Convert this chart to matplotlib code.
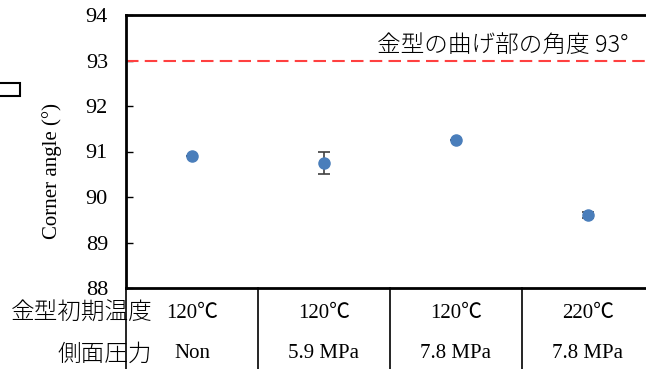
import matplotlib
matplotlib.use("Agg")
import matplotlib.pyplot as plt
from matplotlib.patches import Rectangle
import matplotlib.transforms as mtransforms

# data
conditions = [1, 2, 3, 4]
angles = [90.9, 90.75, 91.25, 89.6]
errors = [0.0, 0.25, 0.0, 0.06]
temps = ["120℃", "120℃", "120℃", "220℃"]
pressures = ["Non", "5.9 MPa", "7.8 MPa", "7.8 MPa"]
die_angle = 93
yticks = [88, 89, 90, 91, 92, 93, 94]

serif = ["Liberation Serif", "Noto Sans CJK JP"]
jp = ["Noto Sans CJK JP", "DejaVu Sans"]

fig = plt.figure(figsize=(6.46, 3.69), dpi=100)
W, H = 646, 369
ax = fig.add_axes([126 / W, (H - 288) / H, (654 - 126) / W, 273 / H])

ax.errorbar(conditions, angles, yerr=errors, fmt="o", color="#4a7ebb",
            markersize=8, ecolor="#404040", elinewidth=1.2, capsize=4.5,
            capthick=1.2, zorder=3)
ax.axhline(die_angle, color="#ff4040", linestyle=(0, (6, 3)), linewidth=1.5)
ax.text(4.31, die_angle + 0.06, "金型の曲げ部の角度 93°", ha="right", va="bottom",
        fontsize=17, family=jp, fontweight="light")

ax.set_xlim(0.5, 4.5)
ax.set_ylim(88, 94)
ax.set_yticks(yticks)
ax.set_yticklabels([str(t) for t in yticks], family=serif, fontsize=16)
ax.set_xticks([])
ax.tick_params(axis="y", direction="in", length=5, width=1, pad=13)
ax.set_ylabel("Corner angle (°)", family=serif, fontsize=15)
ax.yaxis.set_label_coords(-64 / 528, 0.43)

ax.spines["right"].set_visible(False)
for s in ["left", "top", "bottom"]:
    ax.spines[s].set_linewidth(2)

# table under the axis
trans = mtransforms.blended_transform_factory(ax.transData, ax.transAxes)
row1 = (288 - 313) / 273
row2 = (288 - 354) / 273
bottom = (288 - 372) / 273
for i, c in enumerate(conditions):
    ax.text(c, row1, temps[i], ha="center", va="center", fontsize=15,
            family=serif, transform=trans)
    ax.text(c, row2, pressures[i], ha="center", va="center", fontsize=15,
            family=serif, transform=trans)
for xb in [0.5, 1.5, 2.5, 3.5]:
    ax.plot([xb, xb], [0, bottom], color="black", linewidth=1.2,
            transform=trans, clip_on=False)
ax.text(0.7, row1, "金型初期温度", ha="right", va="center", fontsize=17,
        family=jp, fontweight="light", transform=trans)
ax.text(0.7, row2, "側面圧力", ha="right", va="center", fontsize=17,
        family=jp, fontweight="light", transform=trans)

# cut-off box at the left edge
fig.patches.append(Rectangle((-10 / W, (H - 96) / H), 30 / W, 13 / H,
                             transform=fig.transFigure, fill=False,
                             edgecolor="black", linewidth=1.5))

fig.savefig("out.png", dpi=100)
